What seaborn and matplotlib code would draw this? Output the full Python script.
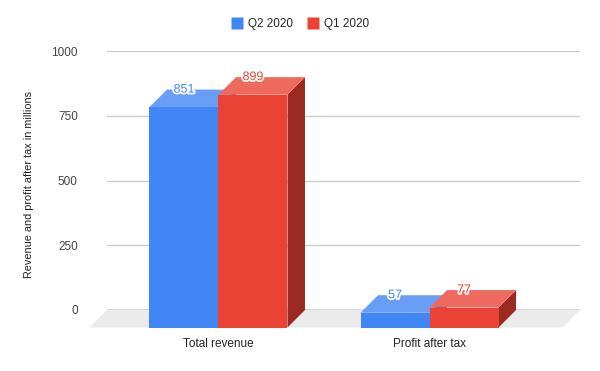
import matplotlib
matplotlib.use("Agg")
import matplotlib.pyplot as plt
import matplotlib.patheffects as pe
from matplotlib.patches import Polygon
from matplotlib.lines import Line2D
import seaborn as sns
import pandas as pd

categories = ["Total revenue", "Profit after tax"]
series = ["Q2 2020", "Q1 2020"]
q2_values = [851, 57]
q1_values = [899, 77]
y_ticks = [0, 250, 500, 750, 1000]

front_colors = {"Q2 2020": "#4285F4", "Q1 2020": "#EA4335"}
top_colors = {"Q2 2020": "#6A9DF6", "Q1 2020": "#EE6A5F"}
side_colors = {"Q2 2020": "#2A5DB0", "Q1 2020": "#9A2A22"}

df = pd.DataFrame({
    "category": categories * 2,
    "series": [series[0]] * 2 + [series[1]] * 2,
    "value": q2_values + q1_values,
})

sns.set_style("white")
plt.rcParams["font.family"] = ["Liberation Sans", "DejaVu Sans"]

W, H = 600, 371
fig = plt.figure(figsize=(W / 100, H / 100), dpi=100)
L, R, T, B = 107, 580, 51, 310
ax = fig.add_axes([L / W, 1 - B / H, (R - L) / W, (B - T) / H])

sns.barplot(data=df, x="category", y="value", hue="series", order=categories,
            hue_order=series, palette=front_colors, width=0.654, ax=ax,
            legend=False, saturation=1, edgecolor="none", linewidth=0, zorder=5)

xlim = (-0.611, 1.630)
ylim = (0, 1000)
ax.set_xlim(*xlim)
ax.set_ylim(*ylim)

depth_px = 17.5
ox = depth_px / ((R - L) / (xlim[1] - xlim[0]))
oy = depth_px / ((B - T) / (ylim[1] - ylim[0]))

# floor
ax.add_patch(Polygon([(xlim[0], 0), (xlim[1], 0), (xlim[1] - ox, -oy), (xlim[0] - ox, -oy)],
                     closed=True, facecolor="#EBEBEB", edgecolor="none", clip_on=False, zorder=1))

# gridlines
for t in y_ticks:
    ax.axhline(t, color="#333333" if t == 0 else "#CCCCCC", lw=1, zorder=2)

bars = [p for p in ax.patches if not isinstance(p, Polygon)]
order = []
for s in series:
    for j, c in enumerate(categories):
        order.append((s, j))
for bar, (s, j) in zip(bars, order):
    x0 = bar.get_x()
    w = bar.get_width()
    v = bar.get_height()
    x1 = x0 + w
    z = 5 if s == series[0] else 6
    bar.set_x(x0 - ox)
    bar.set_y(-oy)
    bar.set_clip_on(False)
    bar.set_zorder(z)
    ax.add_patch(Polygon([(x0 - ox, v - oy), (x1 - ox, v - oy), (x1, v), (x0, v)],
                         closed=True, facecolor=top_colors[s], edgecolor="none",
                         clip_on=False, zorder=z))
    ax.add_patch(Polygon([(x1 - ox, v - oy), (x1, v), (x1, 0), (x1 - ox, -oy)],
                         closed=True, facecolor=side_colors[s], edgecolor="none",
                         clip_on=False, zorder=z - 0.5))
    ax.text(x0 + w / 2 - ox, v, f"{v:.0f}", color=front_colors[s], ha="center", va="center",
            fontsize=9, zorder=10,
            path_effects=[pe.withStroke(linewidth=2.5, foreground="white")])

ax.set_xticks([0 - ox, 1 - ox])
ax.set_xticklabels(categories)
ax.set_yticks(y_ticks)
ax.set_yticklabels([str(t) for t in y_ticks])
ax.tick_params(axis="x", length=0, pad=20, labelsize=8.5, colors="#222222")
ax.tick_params(axis="y", length=0, pad=21, labelsize=8.5, colors="#444444")
for sp in ax.spines.values():
    sp.set_visible(False)
ax.set_xlabel("")
ax.set_ylabel("Revenue and profit after tax in millions", fontsize=7.8, color="#222222")
ax.yaxis.set_label_coords((34 - L) / (R - L), (310 - 185) / (B - T))

handles = [Line2D([0], [0], marker="s", linestyle="none", markersize=8,
                  markerfacecolor=front_colors[s], markeredgecolor="none") for s in series]
fig.legend(handles, series, loc="center", bbox_to_anchor=(0.5, 1 - 24 / H), ncol=2,
           frameon=False, fontsize=8.5, handletextpad=0.4, columnspacing=1.2,
           handlelength=1.0)

fig.savefig("out.png", dpi=100)
